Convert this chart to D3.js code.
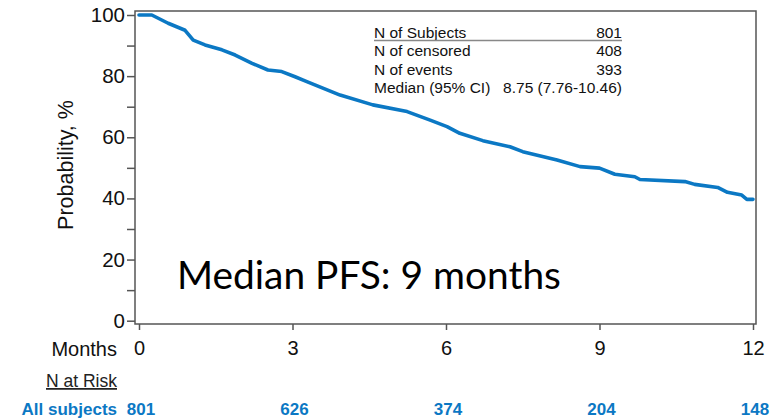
<!DOCTYPE html>
<html>
<head>
<meta charset="utf-8">
<script src="https://cdn.jsdelivr.net/npm/d3@7"></script>
<style>
  html, body { margin: 0; padding: 0; background: #fff; }
  svg { display: block; font-family: "Liberation Sans", Arial, sans-serif; }
</style>
</head>
<body>
<svg id="chart" width="771" height="420"></svg>
<script>
// Kaplan-Meier progression-free survival estimate (months, % free of progression)
const months   = [0, 0.25, 0.57, 0.9, 1.06, 1.29, 1.62, 1.88, 2.21, 2.52, 2.79, 3.05, 3.28, 3.93, 4.57, 5.24, 5.69, 6.02, 6.27, 6.72, 7.25, 7.5, 8.17, 8.62, 9.0, 9.3, 9.69, 9.79, 10.67, 10.86, 11.31, 11.5, 11.78, 11.88, 12.0];
const survival = [100, 100, 97.3, 95, 91.8, 90.2, 88.6, 86.9, 84.2, 82, 81.5, 79.8, 78.2, 73.8, 70.6, 68.4, 65.6, 63.5, 61.3, 58.9, 56.9, 55.3, 52.6, 50.4, 49.9, 47.9, 47.1, 46.2, 45.5, 44.6, 43.6, 42, 41.1, 39.7, 39.7];

const xTicks = [0, 3, 6, 9, 12];
const yTicks = [0, 10, 20, 30, 40, 50, 60, 70, 80, 90, 100];
const yLabels = [0, 20, 40, 60, 80, 100];
const atRisk = [801, 626, 374, 204, 148];

const statLabels = ["N of Subjects", "N of censored", "N of events", "Median (95% CI)"];
const statValues = ["801", "408", "393", "8.75 (7.76-10.46)"];

const blue = "#0b78c4";
const axisGrey = "#555";
const sans = "'Liberation Sans', Arial, sans-serif";

const svg = d3.select("#chart");

const x = d3.scaleLinear().domain([0, 12]).range([139, 753]);
const y = d3.scaleLinear().domain([0, 100]).range([320.7, 15]);

// plot frame
const frame = { left: 135, top: 11, right: 756, bottom: 324 };
svg.append("rect")
  .attr("x", frame.left).attr("y", frame.top)
  .attr("width", frame.right - frame.left).attr("height", frame.bottom - frame.top)
  .attr("fill", "none").attr("stroke", axisGrey).attr("stroke-width", 1.5);

// y axis
const yAxis = svg.append("g")
  .attr("transform", `translate(${frame.left},0)`)
  .call(d3.axisLeft(y).tickValues(yTicks).tickSize(8).tickPadding(2)
    .tickFormat(d => yLabels.includes(d) ? d : ""));
yAxis.select(".domain").remove();
yAxis.selectAll(".tick line").attr("stroke", axisGrey).attr("stroke-width", 1.5);
yAxis.selectAll(".tick text")
  .style("font-family", sans).style("font-size", "20.5px").attr("fill", "#111");

// x axis
const xAxis = svg.append("g")
  .attr("transform", `translate(0,${frame.bottom})`)
  .call(d3.axisBottom(x).tickValues(xTicks).tickSize(6).tickPadding(11));
xAxis.select(".domain").remove();
xAxis.selectAll(".tick line").attr("stroke", axisGrey).attr("stroke-width", 1.5);
xAxis.selectAll(".tick text")
  .style("font-family", sans).style("font-size", "20px").attr("fill", "#111");

svg.append("text")
  .attr("x", 117).attr("y", 356)
  .attr("text-anchor", "end").style("font-size", "20px").attr("fill", "#111")
  .text("Months");

// y axis title
svg.append("text")
  .attr("transform", "translate(73,165) rotate(-90)")
  .attr("text-anchor", "middle").style("font-size", "21.5px").attr("fill", "#111")
  .text("Probability, %");

// survival curve
const line = d3.line()
  .x((d, i) => x(months[i]))
  .y(d => y(d))
  .curve(d3.curveLinear);
svg.append("path")
  .datum(survival)
  .attr("d", line)
  .attr("fill", "none")
  .attr("stroke", blue)
  .attr("stroke-width", 3.6)
  .attr("stroke-linejoin", "round")
  .attr("stroke-linecap", "round");

// summary table
const tbl = svg.append("g").style("font-size", "15.5px").attr("fill", "#111");
statLabels.forEach((lab, i) => {
  const by = 37.5 + i * 18.6;
  tbl.append("text").attr("x", 374).attr("y", by).text(lab);
  tbl.append("text").attr("x", 622).attr("y", by).attr("text-anchor", "end").text(statValues[i]);
});
tbl.append("line")
  .attr("x1", 374).attr("x2", 622).attr("y1", 40.5).attr("y2", 40.5)
  .attr("stroke", "#888").attr("stroke-width", 1.5);

// headline annotation
const headline = svg.append("text")
  .attr("x", 177).attr("y", 289)
  .style("font-family", "Lato, 'Open Sans', sans-serif")
  .style("font-size", "38px").attr("fill", "#000")
  .text("Median PFS: 9 months");
const w = headline.node().getComputedTextLength();
headline.style("font-size", (38 * 384 / w) + "px");

// number at risk table
svg.append("text")
  .attr("x", 117).attr("y", 387).attr("text-anchor", "end")
  .style("font-size", "17.5px").attr("fill", "#222")
  .attr("text-decoration", "underline")
  .text("N at Risk");

svg.append("text")
  .attr("x", 117).attr("y", 415).attr("text-anchor", "end")
  .style("font-size", "17px").attr("font-weight", "bold").attr("fill", blue)
  .text("All subjects");

svg.append("g").selectAll("text")
  .data(atRisk)
  .join("text")
  .attr("x", (d, i) => x(xTicks[i]) + 2)
  .attr("y", 415)
  .attr("text-anchor", "middle")
  .style("font-size", "17px").attr("font-weight", "bold").attr("fill", blue)
  .text(d => d);
</script>
</body>
</html>
